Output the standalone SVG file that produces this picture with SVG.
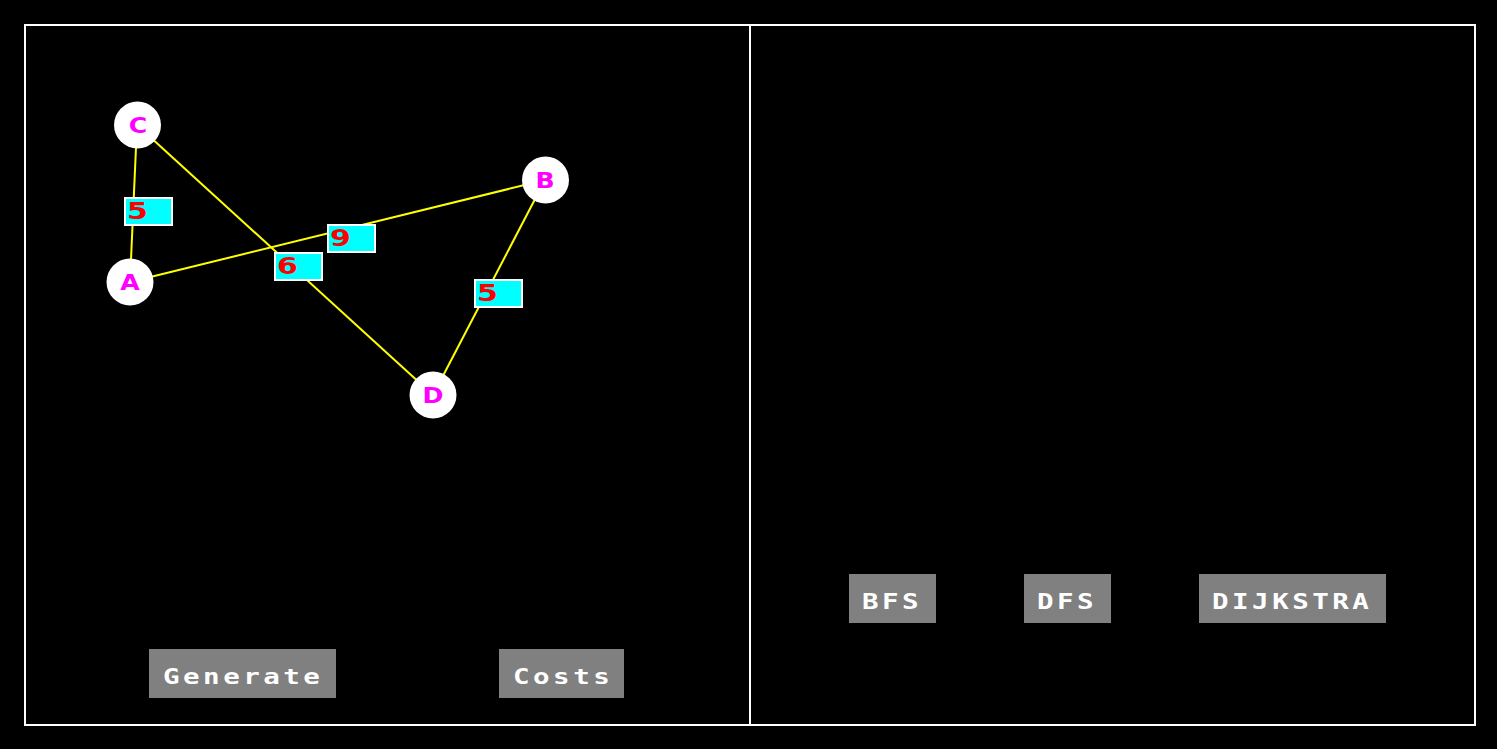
<svg xmlns="http://www.w3.org/2000/svg" width="1497" height="749" viewBox="0 0 1497 749">
<style>
.frame{fill:none;stroke:#fff;stroke-width:2}
.edge{stroke:#ffff00;stroke-width:2;fill:none}
.node circle{fill:#fff}
.node text{fill:#ff00ff;font-family:"DejaVu Sans",sans-serif;font-weight:bold;font-size:21px;text-anchor:middle}
.lbl rect{fill:#00ffff;stroke:#fff;stroke-width:2}
.lbl text{fill:#ff0000;font-family:"DejaVu Sans",sans-serif;font-weight:bold;font-size:23px}
.btn rect{fill:#808080}
.btn text{fill:#fff;font-family:"DejaVu Sans Mono",monospace;font-weight:bold;font-size:22px;letter-spacing:2.8px}
</style>
<rect width="1497" height="749" fill="#000"/>
<g id="frame">
<rect class="frame" x="25" y="25" width="1450" height="700"/>
<line class="frame" x1="750" y1="25" x2="750" y2="725"/>
</g>
<g id="connectors">
<line class="edge" x1="137" y1="125" x2="130" y2="282"/>
<line class="edge" x1="130" y1="282" x2="545" y2="180"/>
<line class="edge" x1="137" y1="125" x2="433" y2="395"/>
<line class="edge" x1="545" y1="180" x2="433" y2="395"/>
<g class="lbl"><rect x="125" y="198" width="47" height="27"/><text transform="translate(127,219) scale(1.3,1)">5</text></g>
<g class="lbl"><rect x="328" y="225" width="47" height="27"/><text transform="translate(330,246) scale(1.3,1)">9</text></g>
<g class="lbl"><rect x="275" y="253" width="47" height="27"/><text transform="translate(277,274) scale(1.3,1)">6</text></g>
<g class="lbl"><rect x="475" y="280" width="47" height="27"/><text transform="translate(477,301) scale(1.3,1)">5</text></g>
</g>
<g id="node-C" class="node"><circle cx="137.5" cy="125" r="23.5"/><text transform="translate(138,133) scale(1.2,1)">C</text></g>
<g id="node-A" class="node"><circle cx="130" cy="282" r="23.5"/><text transform="translate(130,290) scale(1.2,1)">A</text></g>
<g id="node-B" class="node"><circle cx="545.5" cy="180" r="23.5"/><text transform="translate(545,188) scale(1.2,1)">B</text></g>
<g id="node-D" class="node"><circle cx="433" cy="395" r="23.5"/><text transform="translate(433,403) scale(1.2,1)">D</text></g>
<g id="btn-generate" class="btn"><rect x="149" y="649" width="187" height="49"/><text transform="translate(163,684) scale(1.25,1)">Generate</text></g>
<g id="btn-costs" class="btn"><rect x="499" y="649" width="125" height="49"/><text transform="translate(513,684) scale(1.25,1)">Costs</text></g>
<g id="btn-bfs" class="btn"><rect x="849" y="574" width="87" height="49"/><text transform="translate(862,609) scale(1.25,1)">BFS</text></g>
<g id="btn-dfs" class="btn"><rect x="1024" y="574" width="87" height="49"/><text transform="translate(1037,609) scale(1.25,1)">DFS</text></g>
<g id="btn-dijkstra" class="btn"><rect x="1199" y="574" width="187" height="49"/><text transform="translate(1212,609) scale(1.25,1)">DIJKSTRA</text></g>
</svg>
